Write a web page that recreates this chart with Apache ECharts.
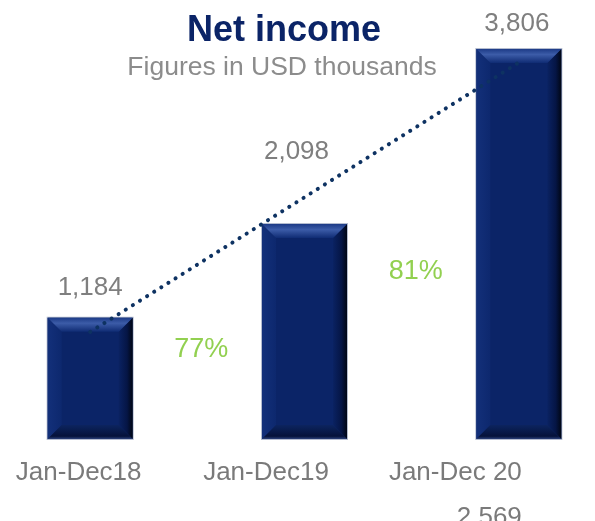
<!DOCTYPE html>
<html>
<head>
<meta charset="utf-8">
<style>
  html, body { margin: 0; padding: 0; background: #fff; }
  #main { width: 595px; height: 521px; }
</style>
<script src="https://cdn.jsdelivr.net/npm/echarts@6/dist/echarts.min.js"></script>
</head>
<body>
<div id="main"></div>
<script>
// data
const periods = ['Jan-Dec18', 'Jan-Dec19', 'Jan-Dec 20'];
const netIncome = [1184, 2098, 3806];
const trendLine = [1044, null, 3673];
const growth = ['77%', '81%'];
const extraNote = '2,569';

const FONT = '"Liberation Sans", Arial, Helvetica, sans-serif';
const NAVY = '#0b2467';

const chart = echarts.init(document.getElementById('main'));

// label nudges (layout only)
const labelLift = [17, 59, 12];
const labelShift = [0, -8, -2];

function bevelBar(params, api) {
  const i = api.value(0);
  const v = api.value(1);
  const top = api.coord([i, v]);
  const base = api.coord([i, 0]);
  const w = 85, b = 14;
  const x0 = top[0] - w / 2, x1 = top[0] + w / 2;
  const y0 = top[1], y1 = base[1];
  const G = echarts.graphic.LinearGradient;
  return {
    type: 'group',
    children: [
      { type: 'rect', shape: { x: x0 - 1, y: y0 - 1, width: w + 2, height: y1 - y0 + 2 },
        style: { fill: '#b4bccf' } },
      { type: 'rect', shape: { x: x0, y: y0, width: w, height: y1 - y0 },
        style: { fill: NAVY } },
      // left
      { type: 'polygon', shape: { points: [[x0, y0], [x0 + b, y0 + b], [x0 + b, y1 - b], [x0, y1]] },
        style: { fill: new G(0, 0, 1, 0, [{ offset: 0, color: '#13307a' }, { offset: 1, color: '#0d286e' }]) } },
      // right
      { type: 'polygon', shape: { points: [[x1, y0], [x1 - b, y0 + b], [x1 - b, y1 - b], [x1, y1]] },
        style: { fill: new G(0, 0, 1, 0, [{ offset: 0, color: '#0a2262' }, { offset: 0.6, color: '#051545' }, { offset: 1, color: '#000614' }]) } },
      // top
      { type: 'polygon', shape: { points: [[x0, y0], [x1, y0], [x1 - b, y0 + b], [x0 + b, y0 + b]] },
        style: { fill: new G(0, 0, 0, 1, [{ offset: 0, color: '#1c3a86' }, { offset: 0.4, color: '#3c5ca8' }, { offset: 1, color: '#102c74' }]) } },
      // bottom
      { type: 'polygon', shape: { points: [[x0, y1], [x1, y1], [x1 - b, y1 - b], [x0 + b, y1 - b]] },
        style: { fill: new G(0, 0, 0, 1, [{ offset: 0, color: '#0c245f' }, { offset: 0.8, color: '#05123a' }, { offset: 1, color: '#2a3f78' }]) } },
      // value label
      { type: 'text', z2: 10,
        style: { text: netIncome[i].toLocaleString('en-US'), x: top[0] + labelShift[i], y: y0 - labelLift[i],
                 align: 'center', verticalAlign: 'bottom', fill: '#7f7f7f', fontSize: 26, fontFamily: FONT } }
    ]
  };
}

const option = {
  animation: false,
  title: [
    { text: 'Net income', left: 279, textAlign: 'center', top: 8,
      textStyle: { color: NAVY, fontSize: 36, fontWeight: 'bold', fontFamily: FONT } },
    { text: 'Figures in USD thousands', left: 277, textAlign: 'center', top: 49,
      textStyle: { color: '#8c8c8c', fontSize: 26.5, fontWeight: 'normal', fontFamily: FONT } }
  ],
  grid: { left: -17, right: -31, top: 29, bottom: 82, containLabel: false, outerBoundsMode: 'none' },
  xAxis: {
    type: 'category',
    data: periods.map((p, i) => ({
      value: p,
      textStyle: i === 0 ? { padding: [0, 23, 0, 0] }
               : i === 1 ? { padding: [0, 77, 0, 0] }
               : { align: 'right', padding: [0, -3, 0, 0] }
    })),
    axisLine: { show: false },
    axisTick: { show: false },
    axisLabel: {
      interval: 0, margin: 11, color: '#7a7a7a', fontSize: 26, fontFamily: FONT, lineHeight: 45,
      formatter: (v, i) => (i === 2 ? v + '\n' + extraNote : v)
    }
  },
  yAxis: { type: 'value', min: 0, max: 4000, show: false, splitLine: { show: false } },
  series: [
    {
      type: 'custom',
      renderItem: bevelBar,
      data: netIncome.map((v, i) => [i, v]),
      encode: { x: 0, y: 1 },
      z: 2
    },
    {
      type: 'line',
      data: trendLine.map(v => (v === null ? '-' : v)),
      connectNulls: true,
      symbol: 'none',
      z: 5,
      lineStyle: { color: '#0e3262', width: 4, type: [0.1, 8.3], cap: 'round' }
    }
  ]
};

chart.setOption(option);

// growth labels, placed between the bars
const gx = growth.map((g, i) => {
  const a = chart.convertToPixel({ xAxisIndex: 0 }, i);
  const c = chart.convertToPixel({ xAxisIndex: 0 }, i + 1);
  return (a + c) / 2 + 4;
});
const gy = [350, 272];
chart.setOption({
  graphic: growth.map((g, i) => ({
    type: 'text', x: gx[i], y: gy[i], z: 10,
    style: { text: g, align: 'center', verticalAlign: 'middle', fill: '#92d050', fontSize: 27, fontFamily: FONT }
  }))
});
</script>
</body>
</html>
